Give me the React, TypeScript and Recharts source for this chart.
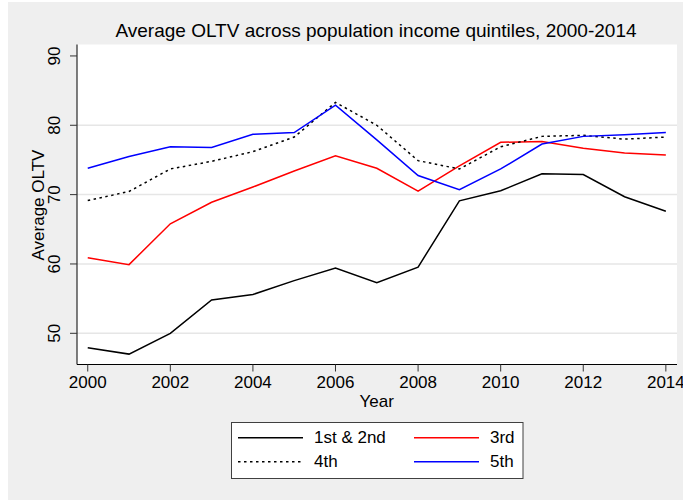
import React from "react";
import {
  LineChart,
  Line,
  XAxis,
  YAxis,
  CartesianGrid,
  ReferenceLine,
  Legend,
} from "recharts";

const years = [2000, 2001, 2002, 2003, 2004, 2005, 2006, 2007, 2008, 2009, 2010, 2011, 2012, 2013, 2014];
const q12 = [47.9, 47.0, 50.0, 54.8, 55.6, 57.6, 59.4, 57.3, 59.55, 69.1, 70.55, 73.0, 72.9, 69.7, 67.6];
const q3 = [60.9, 59.9, 65.8, 68.9, 71.1, 73.4, 75.6, 73.8, 70.5, 74.15, 77.55, 77.65, 76.7, 76.0, 75.7];
const q4 = [69.15, 70.45, 73.7, 74.8, 76.2, 78.3, 83.3, 80.0, 74.9, 73.7, 76.9, 78.4, 78.55, 78.0, 78.3];
const q5 = [73.8, 75.5, 76.9, 76.8, 78.7, 78.95, 82.9, 77.9, 72.75, 70.7, 73.7, 77.3, 78.4, 78.65, 78.95];

const xTicks = [2000, 2002, 2004, 2006, 2008, 2010, 2012, 2014];
const yTicks = [50, 60, 70, 80, 90];
const gridValues = [50, 60, 70, 80];

const seriesNames = { q12: "1st & 2nd", q3: "3rd", q4: "4th", q5: "5th" };
const title = "Average OLTV across population income quintiles, 2000-2014";
const xTitle = "Year";
const yTitle = "Average OLTV";

const data = years.map((y, i) => ({ year: y, q12: q12[i], q3: q3[i], q4: q4[i], q5: q5[i] }));

const FONT = "'Liberation Sans', Arial, sans-serif";
const W = 675;
const H = 498;

const YTick = (props: any) => {
  const { y, payload } = props;
  const bx = 52;
  return (
    <text
      x={bx}
      y={y}
      transform={`rotate(-90, ${bx}, ${y})`}
      textAnchor="middle"
      fontSize={17}
      fontFamily={FONT}
      fill="#000"
    >
      {payload.value}
    </text>
  );
};

const LegendBox = () => {
  const rows = [
    [
      { name: seriesNames.q12, color: "#000", dash: undefined },
      { name: seriesNames.q3, color: "#ff0000", dash: undefined },
    ],
    [
      { name: seriesNames.q4, color: "#000", dash: "2.5 3.5" },
      { name: seriesNames.q5, color: "#0000ff", dash: undefined },
    ],
  ];
  const lineY = [15.7, 39.7];
  const textY = [21.3, 45.3];
  const cols = [
    { x1: 7, x2: 72, tx: 83 },
    { x1: 183, x2: 248, tx: 259 },
  ];
  return (
    <svg width={293} height={57} style={{ display: "block" }}>
      <rect x={0.5} y={0.5} width={291.5} height={56} fill="#fff" stroke="#404040" strokeWidth={1} />
      {rows.map((row, ri) =>
        row.map((item, ci) => (
          <g key={`${ri}-${ci}`}>
            <line
              x1={cols[ci].x1}
              x2={cols[ci].x2}
              y1={lineY[ri]}
              y2={lineY[ri]}
              stroke={item.color}
              strokeWidth={1.5}
              strokeDasharray={item.dash}
            />
            <text x={cols[ci].tx} y={textY[ri]} fontSize={17} fontFamily={FONT} fill="#000">
              {item.name}
            </text>
          </g>
        ))
      )}
    </svg>
  );
};

export default function App() {
  return (
    <div
      style={{
        position: "absolute",
        left: 8,
        top: 2,
        width: W,
        height: H,
        background: "#efefef",
        fontFamily: FONT,
      }}
    >
      <LineChart
        width={W}
        height={H}
        data={data}
        margin={{ top: 42.5, right: 6, left: 0, bottom: 0 }}
        style={{ overflow: "visible" }}
      >
        <CartesianGrid fill="#ffffff" stroke="none" horizontal={false} vertical={false} />
        {gridValues.map((v) => (
          <ReferenceLine key={v} y={v} stroke="#e6e6e6" strokeWidth={1.5} />
        ))}
        <XAxis
          dataKey="year"
          type="number"
          domain={[1999.74, 2014.27]}
          ticks={xTicks}
          allowDataOverflow
          height={135.5}
          tickSize={7}
          tickMargin={4}
          axisLine={{ stroke: "#000", strokeWidth: 1 }}
          tickLine={{ stroke: "#333", strokeWidth: 1 }}
          tick={{ fontSize: 17, fill: "#000", fontFamily: FONT }}
          interval={0}
        />
        <YAxis
          type="number"
          domain={[45.5, 91.65]}
          ticks={yTicks}
          allowDataOverflow
          width={69}
          tickSize={7}
          axisLine={{ stroke: "#000", strokeWidth: 1 }}
          tickLine={{ stroke: "#333", strokeWidth: 1 }}
          tick={<YTick />}
          interval={0}
        />
        <Legend
          layout="horizontal"
          verticalAlign="middle"
          align="center"
          content={() => <LegendBox />}
          wrapperStyle={{ position: "absolute", left: 222.7, top: 420, width: 293, height: 57 }}
        />
        <Line type="linear" dataKey="q12" name={seriesNames.q12} stroke="#000" strokeWidth={1.5} dot={false} isAnimationActive={false} />
        <Line type="linear" dataKey="q3" name={seriesNames.q3} stroke="#ff0000" strokeWidth={1.5} dot={false} isAnimationActive={false} />
        <Line type="linear" dataKey="q4" name={seriesNames.q4} stroke="#000" strokeWidth={1.5} strokeDasharray="2.5 3.5" dot={false} isAnimationActive={false} />
        <Line type="linear" dataKey="q5" name={seriesNames.q5} stroke="#0000ff" strokeWidth={1.5} dot={false} isAnimationActive={false} />
      </LineChart>
      <svg
        width={W}
        height={H}
        style={{ position: "absolute", left: 0, top: 0, pointerEvents: "none" }}
      >
        <text x={368} y={35} textAnchor="middle" fontSize={19} fontFamily={FONT} fill="#000">
          {title}
        </text>
        <text x={368.7} y={405.3} textAnchor="middle" fontSize={17} fontFamily={FONT} fill="#000">
          {xTitle}
        </text>
        <text
          x={36}
          y={203}
          transform="rotate(-90, 36, 203)"
          textAnchor="middle"
          fontSize={17}
          fontFamily={FONT}
          fill="#000"
        >
          {yTitle}
        </text>
      </svg>
    </div>
  );
}
